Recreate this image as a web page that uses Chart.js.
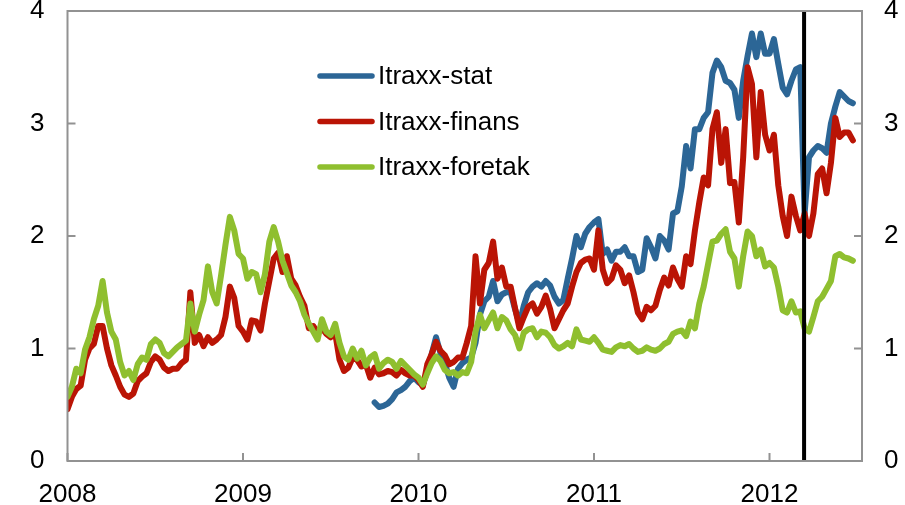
<!DOCTYPE html>
<html>
<head>
<meta charset="utf-8">
<script src="https://cdn.jsdelivr.net/npm/chart.js@4.4.1/dist/chart.umd.min.js"></script>
<style>
  html, body { margin: 0; padding: 0; background: #fff; }
  canvas { display: block; }
</style>
</head>
<body>
<canvas id="chart" width="905" height="505"></canvas>
<script>
// sampled roughly every 9 days, start of 2008 to mid 2012
const startYear = 2008;
const stepYear = 0.025;
const tickYears = [2008, 2009, 2010, 2011, 2012];
const tickValues = [0, 1, 2, 3, 4];
const markerYear = 2012.197;
const seriesNames = ['Itraxx-stat', 'Itraxx-finans', 'Itraxx-foretak'];

const stat = [
  null, null, null, null, null, null, null, null, null, null,
  null, null, null, null, null, null, null, null, null, null,
  null, null, null, null, null, null, null, null, null, null,
  null, null, null, null, null, null, null, null, null, null,
  null, null, null, null, null, null, null, null, null, null,
  null, null, null, null, null, null, null, null, null, null,
  null, null, null, null, null, null, null, null, null, null,
  0.52, 0.48, 0.49, 0.51, 0.55, 0.61, 0.63, 0.66, 0.71, 0.74,
  0.70, 0.68, 0.80, 0.95, 1.10, 0.96, 0.87, 0.74, 0.66, 0.82,
  0.87, 0.90, 0.92, 1.05, 1.30, 1.42, 1.46, 1.60, 1.42, 1.48,
  1.50, 1.50, 1.35, 1.22, 1.38, 1.50, 1.55, 1.58, 1.55, 1.60,
  1.56, 1.46, 1.40, 1.43, 1.62, 1.80, 2.00, 1.90, 2.02, 2.08,
  2.12, 2.15, 1.84, 1.88, 1.78, 1.86, 1.86, 1.90, 1.82, 1.82,
  1.68, 1.70, 1.98, 1.90, 1.80, 2.00, 1.96, 1.88, 2.20, 2.22,
  2.44, 2.80, 2.60, 2.95, 2.95, 3.05, 3.10, 3.45, 3.56, 3.50,
  3.38, 3.36, 3.30, 3.05, 3.38, 3.60, 3.80, 3.59, 3.80, 3.62,
  3.62, 3.75, 3.53, 3.32, 3.26, 3.38, 3.48, 3.50, 2.20, 2.70,
  2.76, 2.80, 2.78, 2.74, 3.00, 3.15, 3.28, 3.24, 3.20, 3.18
];

const finans = [
  0.46, 0.57, 0.64, 0.67, 0.90, 1.00, 1.04, 1.20, 1.20, 1.00,
  0.85, 0.76, 0.66, 0.59, 0.57, 0.60, 0.71, 0.75, 0.78, 0.88,
  0.93, 0.90, 0.83, 0.80, 0.82, 0.82, 0.87, 0.90, 1.50, 1.05,
  1.12, 1.02, 1.10, 1.05, 1.08, 1.12, 1.28, 1.55, 1.45, 1.20,
  1.15, 1.08, 1.25, 1.24, 1.16, 1.40, 1.60, 1.80, 1.85, 1.68,
  1.82, 1.62, 1.56, 1.46, 1.38, 1.18, 1.20, 1.14, 1.18, 1.13,
  1.10, 1.14, 0.90, 0.80, 0.83, 0.92, 0.90, 0.84, 0.86, 0.74,
  0.83, 0.77, 0.78, 0.80, 0.79, 0.76, 0.81, 0.78, 0.76, 0.76,
  0.72, 0.66, 0.86, 0.95, 1.06, 0.98, 0.94, 0.86, 0.88, 0.92,
  0.92, 1.05, 1.20, 1.82, 1.40, 1.70, 1.76, 1.95, 1.62, 1.72,
  1.55, 1.55, 1.36, 1.18, 1.28, 1.37, 1.40, 1.31, 1.37, 1.47,
  1.35, 1.18, 1.26, 1.34, 1.40, 1.55, 1.68, 1.76, 1.79, 1.80,
  1.70, 2.05, 1.70, 1.58, 1.62, 1.74, 1.70, 1.58, 1.65, 1.50,
  1.32, 1.26, 1.37, 1.34, 1.38, 1.52, 1.63, 1.56, 1.72, 1.62,
  1.55, 1.82, 1.75, 2.05, 2.30, 2.52, 2.45, 2.95, 3.10, 2.65,
  2.95, 2.47, 2.48, 2.12, 2.70, 3.50, 3.35, 2.70, 3.28, 2.90,
  2.76, 2.90, 2.45, 2.18, 2.00, 2.35, 2.18, 2.05, 2.20, 2.00,
  2.20, 2.55, 2.60, 2.38, 2.65, 3.05, 2.88, 2.92, 2.92, 2.85
];

const foretak = [
  0.57, 0.66, 0.82, 0.78, 0.99, 1.10, 1.26, 1.38, 1.60, 1.32,
  1.15, 1.08, 0.88, 0.76, 0.80, 0.72, 0.86, 0.92, 0.90, 1.04,
  1.08, 1.05, 0.96, 0.93, 0.97, 1.01, 1.04, 1.07, 1.40, 1.15,
  1.30, 1.43, 1.73, 1.50, 1.40, 1.65, 1.92, 2.17, 2.05, 1.84,
  1.80, 1.62, 1.68, 1.66, 1.50, 1.66, 1.95, 2.08, 1.95, 1.78,
  1.67, 1.56, 1.50, 1.42, 1.30, 1.22, 1.15, 1.08, 1.26, 1.15,
  1.12, 1.22, 1.05, 0.93, 0.90, 1.00, 0.91, 0.98, 0.85, 0.92,
  0.95, 0.82, 0.87, 0.90, 0.88, 0.82, 0.89, 0.85, 0.81, 0.77,
  0.74, 0.68, 0.78, 0.87, 0.93, 0.89, 0.81, 0.78, 0.79, 0.76,
  0.79, 0.78, 0.88, 1.15, 1.30, 1.18, 1.25, 1.32, 1.18, 1.28,
  1.25, 1.17, 1.12, 1.00, 1.14, 1.17, 1.18, 1.10, 1.15, 1.14,
  1.10, 1.03, 1.00, 1.02, 1.05, 1.02, 1.17, 1.08, 1.07, 1.06,
  1.10, 1.05, 0.99, 0.98, 0.97, 1.01, 1.03, 1.02, 1.04, 1.00,
  0.97, 0.98, 1.01, 0.99, 0.98, 1.00, 1.04, 1.06, 1.13, 1.15,
  1.16, 1.11, 1.24, 1.18, 1.40, 1.55, 1.75, 1.95, 1.96, 2.02,
  2.06, 1.86, 1.80, 1.55, 1.82, 2.04, 2.00, 1.82, 1.88, 1.73,
  1.76, 1.72, 1.55, 1.34, 1.32, 1.42, 1.32, 1.33, 1.18, 1.15,
  1.28, 1.42, 1.46, 1.53, 1.60, 1.82, 1.84, 1.81, 1.80, 1.78
];

const colors = ['#2c6696', '#ba1405', '#8fbf2f'];
const axisGrey = '#929292';
const fontFamily = '"Liberation Sans", Arial, sans-serif';

const dates = foretak.map((_, i) => +(startYear + i * stepYear).toFixed(3));
const points = vals => vals.map((v, i) => ({ x: dates[i], y: v }));

const decorPlugin = {
  id: 'decor',
  afterDatasetsDraw(chart) {
    const { ctx, chartArea: a, scales } = chart;
    ctx.save();

    // vertical marker line
    const mx = scales.x.getPixelForValue(markerYear);
    ctx.strokeStyle = '#000';
    ctx.lineWidth = 4;
    ctx.beginPath();
    ctx.moveTo(mx, a.top);
    ctx.lineTo(mx, a.bottom);
    ctx.stroke();

    // frame + inward ticks
    ctx.strokeStyle = axisGrey;
    ctx.lineWidth = 2;
    ctx.strokeRect(a.left, a.top, a.right - a.left, a.bottom - a.top);
    ctx.beginPath();
    tickYears.forEach(yr => {
      const px = scales.x.getPixelForValue(yr);
      ctx.moveTo(px, a.bottom);
      ctx.lineTo(px, a.bottom - 8);
    });
    tickValues.forEach(v => {
      const py = scales.y.getPixelForValue(v);
      ctx.moveTo(a.left, py);
      ctx.lineTo(a.left + 8, py);
      ctx.moveTo(a.right, py);
      ctx.lineTo(a.right - 8, py);
    });
    ctx.stroke();

    // legend inside plot
    ctx.font = '26px ' + fontFamily;
    ctx.textBaseline = 'middle';
    ctx.lineCap = 'round';
    seriesNames.forEach((name, i) => {
      const y = 76 + i * 45.5;
      ctx.strokeStyle = colors[i];
      ctx.lineWidth = 5.5;
      ctx.beginPath();
      ctx.moveTo(320, y);
      ctx.lineTo(372, y);
      ctx.stroke();
      ctx.fillStyle = '#000';
      ctx.fillText(name, 378, y + 1);
    });
    ctx.restore();
  }
};

const lineStyle = {
  borderWidth: 6,
  pointRadius: 0,
  tension: 0,
  borderCapStyle: 'round',
  borderJoinStyle: 'round',
  spanGaps: false
};

const tickFont = { family: fontFamily, size: 26 };
const intOnly = v => Number.isInteger(v) ? String(v) : '';
const noGrid = { display: false, drawTicks: false };

new Chart(document.getElementById('chart'), {
  type: 'line',
  data: {
    datasets: [
      { label: seriesNames[0], data: points(stat), borderColor: colors[0], order: 3, ...lineStyle },
      { label: seriesNames[1], data: points(finans), borderColor: colors[1], order: 2, ...lineStyle },
      { label: seriesNames[2], data: points(foretak), borderColor: colors[2], order: 1, ...lineStyle }
    ]
  },
  options: {
    responsive: false,
    animation: false,
    layout: { padding: { top: 11, right: 0, bottom: 0, left: 0 } },
    plugins: { legend: { display: false }, tooltip: { enabled: false } },
    scales: {
      x: {
        type: 'linear',
        min: 2008,
        max: 2012.527,
        grid: noGrid,
        border: { display: false },
        ticks: { stepSize: 1, includeBounds: false, autoSkip: false, maxRotation: 0,
                 padding: 18, color: '#000', font: tickFont, callback: intOnly },
        afterFit: s => { s.height = 44; s.paddingLeft = 0; s.paddingRight = 0; }
      },
      y: {
        position: 'left',
        min: 0, max: 4,
        grid: noGrid,
        border: { display: false },
        ticks: { stepSize: 1, padding: 23, color: '#000', font: tickFont, callback: intOnly },
        afterFit: s => { s.width = 67.5; s.paddingTop = 0; s.paddingBottom = 0; }
      },
      y2: {
        position: 'right',
        min: 0, max: 4,
        grid: noGrid,
        border: { display: false },
        ticks: { stepSize: 1, padding: 22, color: '#000', font: tickFont, callback: intOnly },
        afterFit: s => { s.width = 43; s.paddingTop = 0; s.paddingBottom = 0; }
      }
    }
  },
  plugins: [decorPlugin]
});
</script>
</body>
</html>
